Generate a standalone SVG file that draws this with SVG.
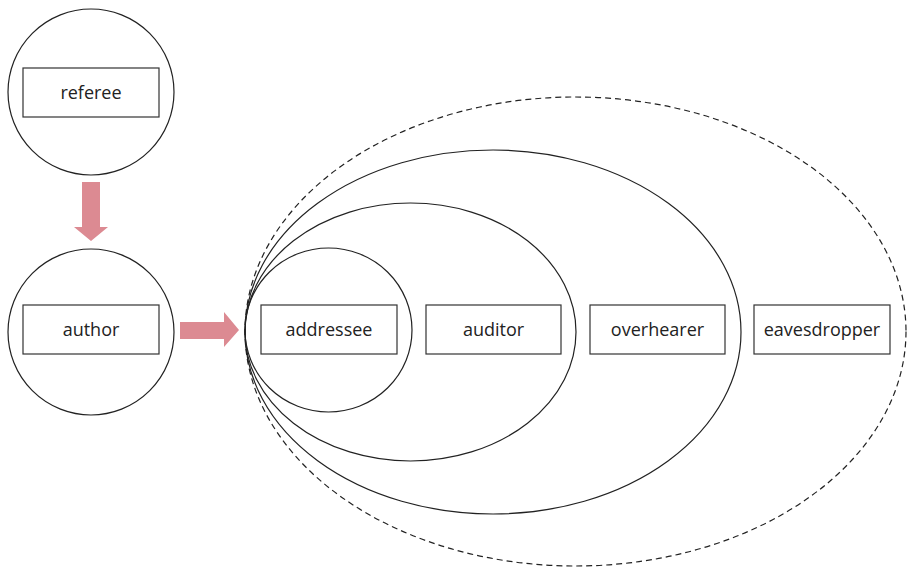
<svg xmlns="http://www.w3.org/2000/svg" width="907" height="569" viewBox="0 0 907 569">
<style>
.c{fill:none;stroke:#222;stroke-width:1.2}
.d{fill:none;stroke:#222;stroke-width:1.2;stroke-dasharray:6 4}
.b{fill:#fff;stroke:#333;stroke-width:1.2}
.t{font-family:"Open Sans","Liberation Sans",sans-serif;font-size:18px;fill:#222;text-anchor:middle;dominant-baseline:central}
.a{fill:#dc8a92}
</style>
<rect width="907" height="569" fill="#fff"/>
<g id="eavesdropper-ring"><ellipse class="d" cx="575.5" cy="331.5" rx="330.5" ry="234.5"/></g>
<g id="overhearer-ring"><ellipse class="c" cx="493" cy="332" rx="248" ry="182"/></g>
<g id="auditor-ring"><ellipse class="c" cx="410.5" cy="332" rx="165.5" ry="129"/></g>
<g id="addressee-ring"><ellipse class="c" cx="328.5" cy="330" rx="83.5" ry="82"/></g>
<g id="referee">
<circle class="c" cx="91" cy="92" r="83"/>
<rect class="b" x="23" y="68" width="136" height="49"/>
<text class="t" x="91" y="92">referee</text>
</g>
<g id="author">
<circle class="c" cx="91" cy="332" r="83"/>
<rect class="b" x="23" y="305" width="136" height="49"/>
<text class="t" x="91" y="329">author</text>
</g>
<g id="addressee">
<rect class="b" x="261" y="305" width="136" height="49"/>
<text class="t" x="329" y="329">addressee</text>
</g>
<g id="auditor">
<rect class="b" x="426" y="305" width="135" height="49"/>
<text class="t" x="493.5" y="329">auditor</text>
</g>
<g id="overhearer">
<rect class="b" x="590" y="305" width="135" height="49"/>
<text class="t" x="657.5" y="329">overhearer</text>
</g>
<g id="eavesdropper">
<rect class="b" x="754" y="305" width="136" height="49"/>
<text class="t" x="822" y="329">eavesdropper</text>
</g>
<g id="connectors">
<polygon class="a" points="82,182 100,182 100,227 108,227 91,241 74,227 82,227"/>
<polygon class="a" points="180,322 224,322 224,312 239,330 224,347 224,339 180,339"/>
</g>
</svg>
